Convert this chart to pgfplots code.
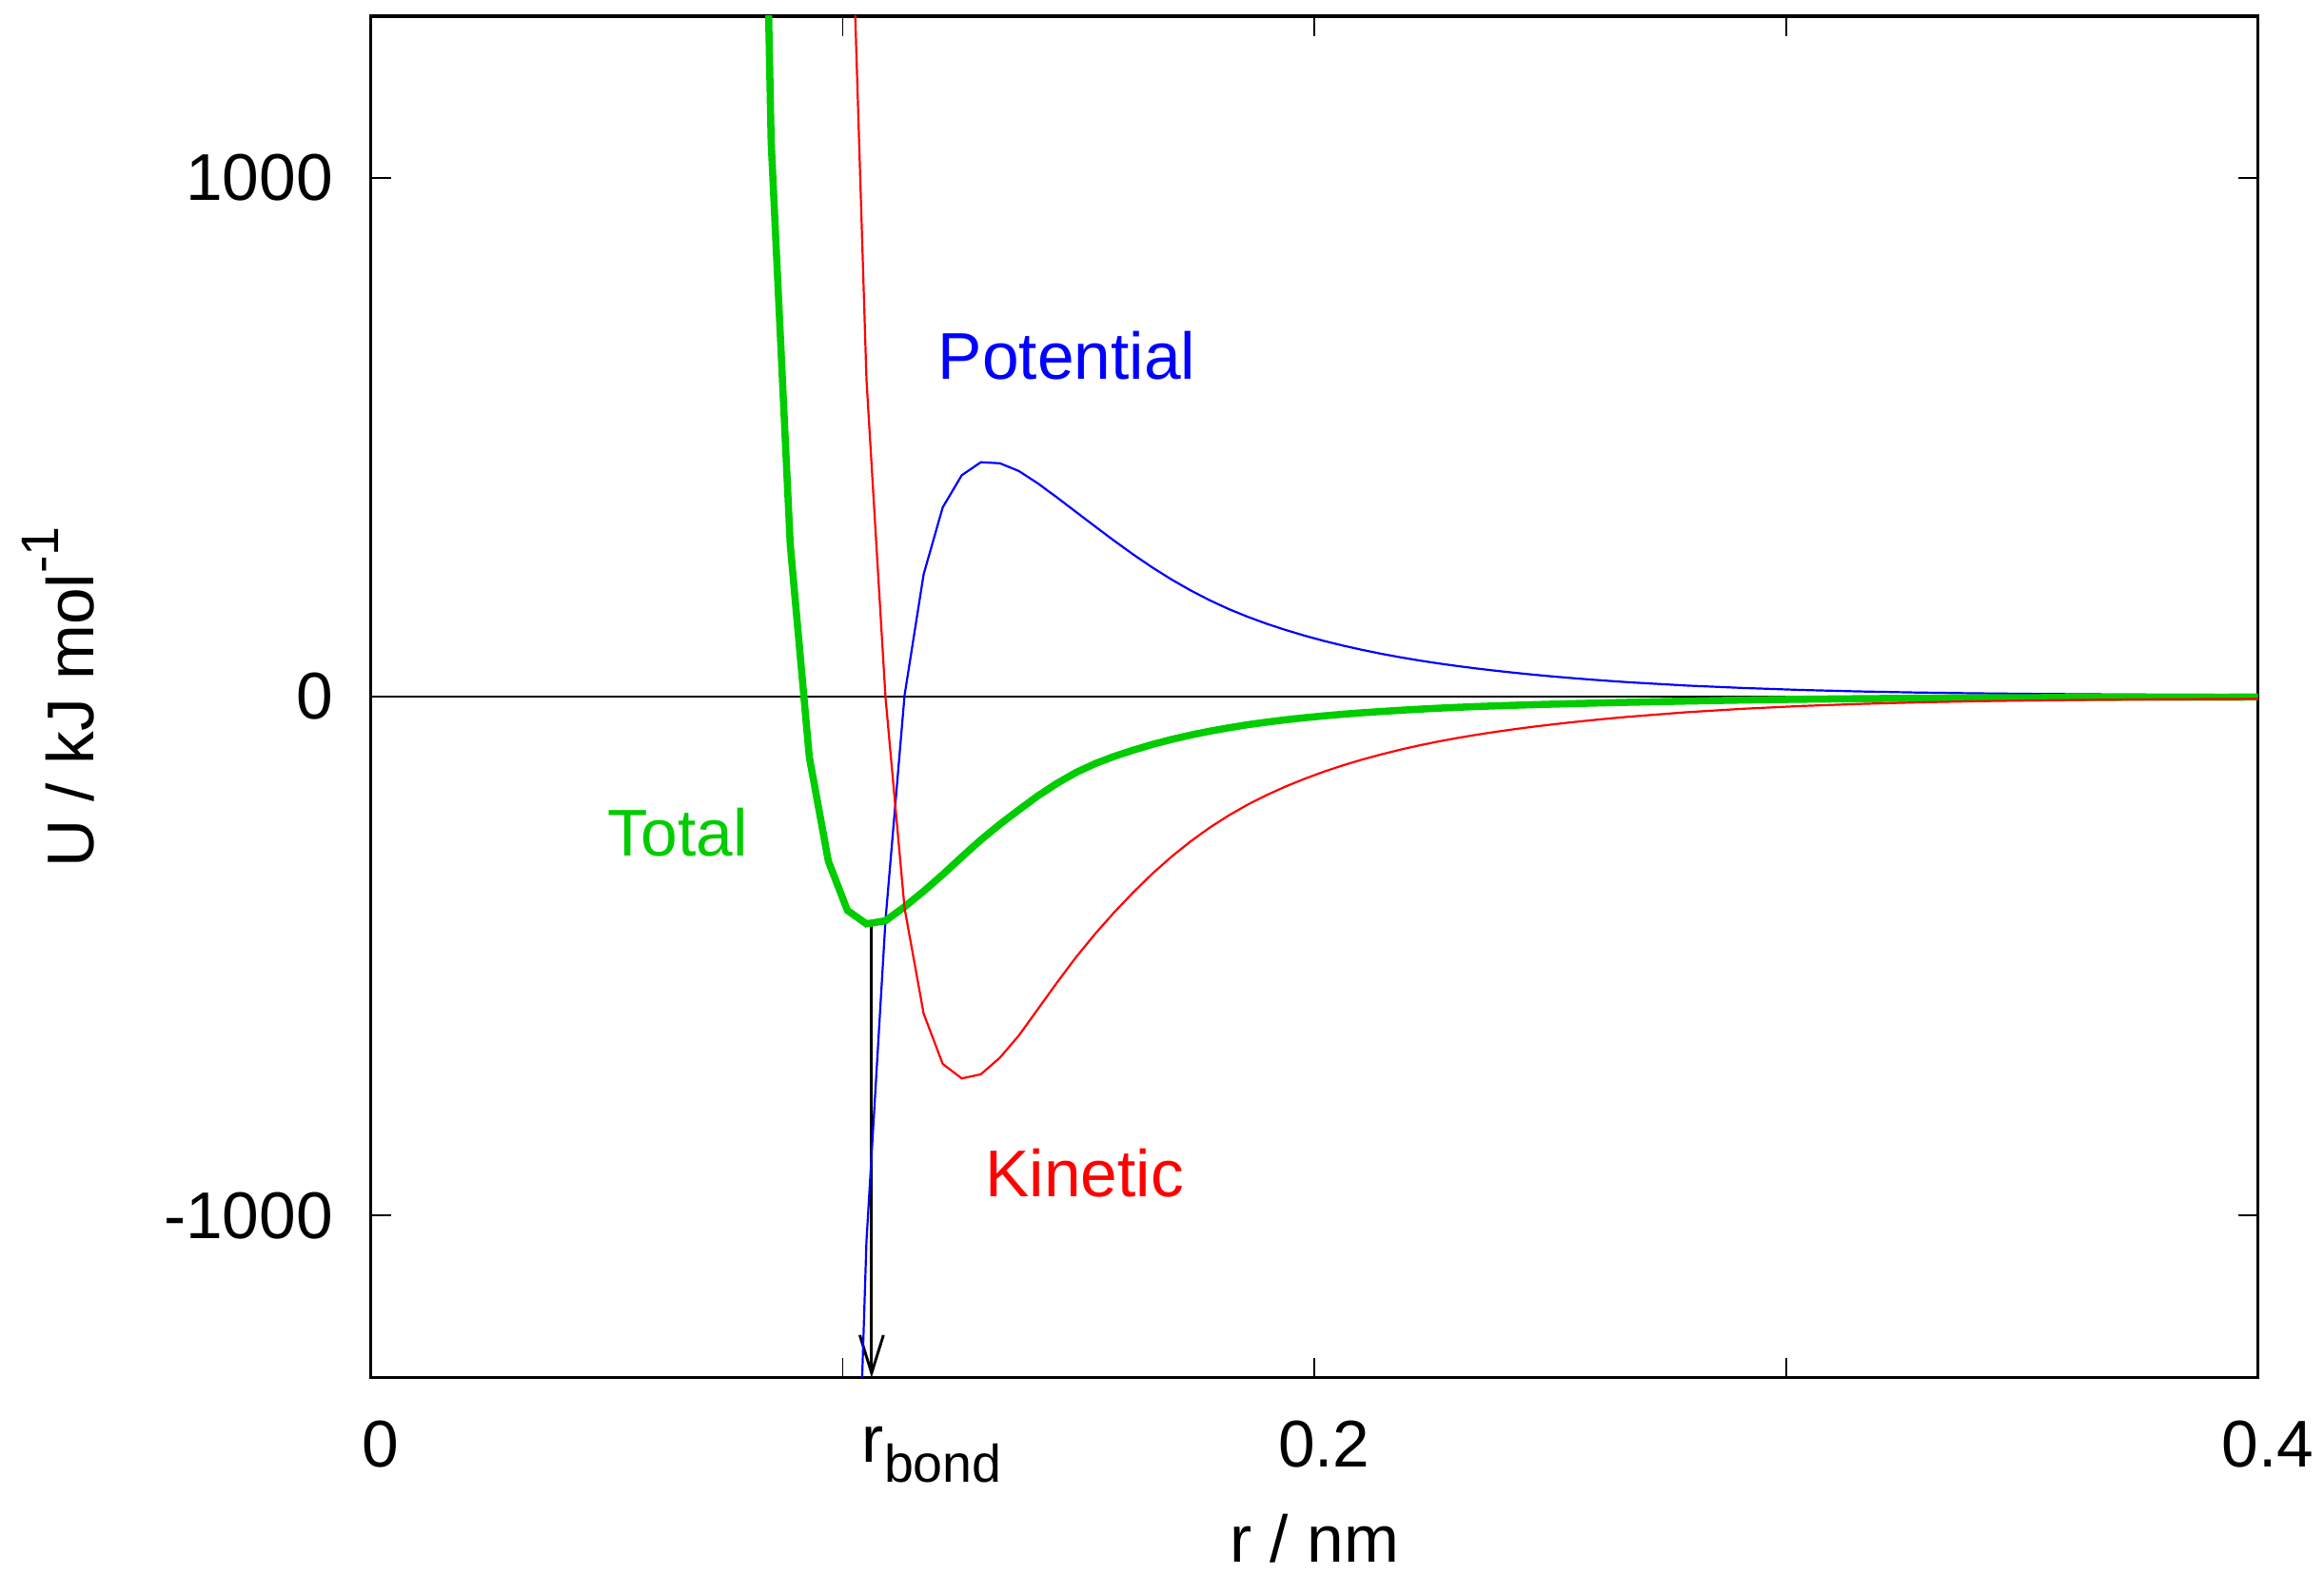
\documentclass[12pt,border=0pt]{standalone}
\usepackage{fontspec}
\setmainfont{Liberation Sans}
\usepackage{pgfplots}
\usepackage{pgfplotstable}
\pgfplotsset{compat=1.18}
\usetikzlibrary{arrows.meta}
\definecolor{gpblue}{HTML}{0000FF}
\definecolor{gpred}{HTML}{FF0000}
\definecolor{gpgreen}{HTML}{00CC00}
\newcommand{\smalltxt}[1]{{\fontsize{9.6}{10}\selectfont #1}}

% r in nm, energies in kJ/mol (pot = potential, kin = kinetic, tot = total)
\pgfplotstableread{
r        pot      kin      tot
0.08081  nan      nan      2900
0.08485  nan      nan      1070
0.08889  nan      nan      294
0.09293  nan      nan      -116
0.09697  nan      nan      -317
0.10101  -2212    1800     -412
0.10505  -1050    612      -438
0.10909  -430     -2       -432
0.11313  3        -408     -405
0.11717  236      -611     -375
0.12121  365      -708     -343
0.12525  427      -736     -309
0.12929  452      -728     -276
0.13333  450      -696     -246
0.13737  435      -653     -218
0.14141  411      -602     -191
0.14545  384      -551     -167
0.14949  356      -502     -146
0.15354  328      -457     -129
0.15758  300.5    -415.5   -115
0.16162  274      -377     -103
0.16566  249      -341     -92
0.16970  226      -308.5   -82.5
0.17374  205      -279     -74
0.17778  186      -252.5   -66.5
0.18182  169      -229     -60
0.18586  154      -208     -54
0.18990  140.5    -189.5   -49
0.19394  128.5    -173     -44.5
0.19798  117.5    -158     -40.5
0.20202  107.5    -144.5   -37
0.20606  98.5     -132.3   -33.8
0.21010  90.3     -121.3   -31
0.21414  82.8     -111.3   -28.5
0.21818  76       -102.2   -26.2
0.22222  69.8     -93.9    -24.1
0.22626  64.2     -86.4    -22.2
0.23030  59.1     -79.6    -20.5
0.23434  54.4     -73.4    -19
0.23838  50.1     -67.8    -17.7
0.24242  46.1     -62.6    -16.5
0.24646  42.4     -57.8    -15.4
0.25051  39       -53.4    -14.4
0.25455  35.9     -49.3    -13.4
0.25859  33       -45.5    -12.5
0.26263  30.3     -41.9    -11.6
0.26667  27.8     -38.6    -10.8
0.27879  21.5     -30      -8.5
0.29091  16.8     -23.3    -6.5
0.30303  13       -18      -5
0.31515  10.2     -14.1    -3.9
0.32727  8.1      -11.1    -3
0.33939  6.6      -8.9     -2.3
0.35152  5.5      -7.3     -1.8
0.36364  4.7      -6.1     -1.4
0.37576  4.1      -5.2     -1.1
0.38788  3.7      -4.6     -0.9
0.40000  3.4      -4.1     -0.7
}\energies

\begin{document}
\begin{tikzpicture}
\begin{axis}[
    name=ax,
    scale only axis,
    width=342.5pt, height=247.1pt,
    xmin=0, xmax=0.4, ymin=-1313, ymax=1312,
    clip mode=individual,
    xtick={0,0.1,0.2,0.3,0.4}, xticklabels={0,,0.2,,0.4},
    ytick={-1000,0,1000}, yticklabels={-1000,0,1000},
    scaled x ticks=false, scaled y ticks=false,
    tick align=inside,
    major tick length=3.6pt,
    every tick/.style={black, line width=0.25pt},
    axis line style={line width=0.55pt},
    x tick label style={anchor=base, inner sep=0pt, xshift=1.75pt, yshift=-16.2pt},
    y tick label style={anchor=east, inner sep=0pt, xshift=-6.7pt},
    xlabel={r / nm},
    ylabel={U / kJ mol\raisebox{6.3pt}{\smalltxt{-1}}},
    xlabel style={at={(axis description cs:0.5,-0.1354)}, anchor=base, inner sep=0pt},
    ylabel style={at={(axis description cs:-0.1469,0.5)}, anchor=base, inner sep=0pt},
]
% zero line
\addplot[black, line width=0.45pt] coordinates {(0,0) (0.4,0)};

% r_bond marker
\addplot[black, line width=0.5pt, -{Straight Barb[length=6.9pt,width=4.3pt]}]
    coordinates {(0.10614,-438) (0.10614,-1313)};

\addplot[gpblue, line width=0.38pt] table[x=r, y=pot] {\energies};
\addplot[gpgreen, line width=1.3pt] table[x=r, y=tot] {\energies};
\addplot[gpred, line width=0.38pt] table[x=r, y=kin] {\energies};

\node[anchor=base west, inner sep=0pt, text=gpblue] at (axis cs:0.12,612) {Potential};
\node[anchor=base west, inner sep=0pt, text=gpred] at (axis cs:0.13,-964) {Kinetic};
\node[anchor=base west, inner sep=0pt, text=gpgreen] at (axis cs:0.05,-307) {Total};
\node[anchor=base west, inner sep=0pt, yshift=-15.4pt] at (axis cs:0.1039,-1313)
    {r\raisebox{-3.6pt}{\smalltxt{bond}}};
\end{axis}
\pgfresetboundingbox
\path[use as bounding box] ([shift={(-67.3pt,-35.75pt)}]ax.south west)
    rectangle ([shift={(11.97pt,2.94pt)}]ax.north east);
\end{tikzpicture}
\end{document}
